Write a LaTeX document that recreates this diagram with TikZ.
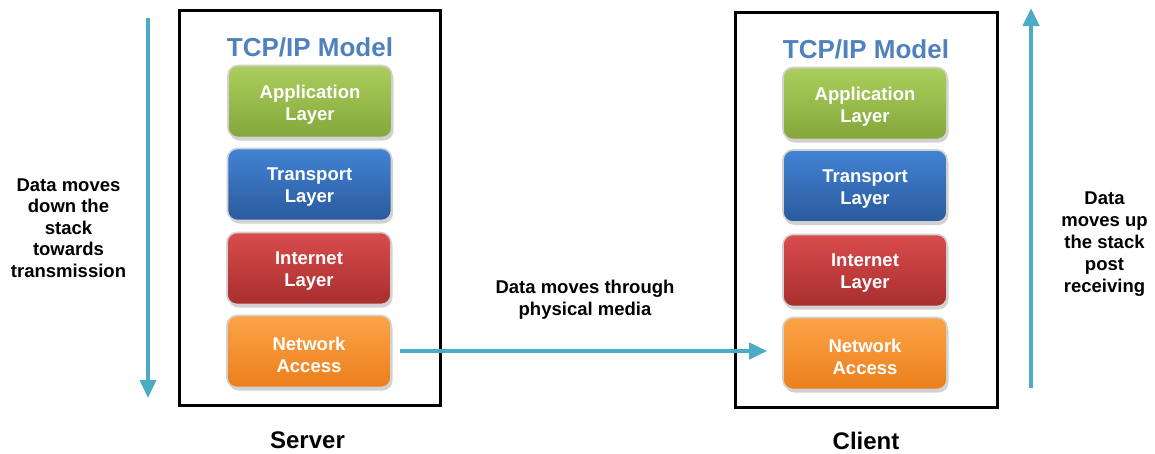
\documentclass[tikz,border=0pt]{standalone}
\usepackage{fontspec}
\setmainfont{Liberation Sans}
\usetikzlibrary{arrows.meta,shadows}

\definecolor{flow}{HTML}{4BACC6}
\definecolor{titleblue}{HTML}{4F81BD}
\definecolor{appTop}{HTML}{ABCF5E}
\definecolor{appBot}{HTML}{84A63A}
\definecolor{trTop}{HTML}{4283D4}
\definecolor{trBot}{HTML}{2A5A9C}
\definecolor{inTop}{HTML}{D94C4C}
\definecolor{inBot}{HTML}{A82E2E}
\definecolor{naTop}{HTML}{FCA447}
\definecolor{naBot}{HTML}{EB7F1C}

\tikzset{
  layer/.style={rectangle, rounded corners=10pt, draw=black!18, line width=1.6pt,
    minimum width=164pt, minimum height=72pt,
    drop shadow={shadow xshift=1.5pt, shadow yshift=-3pt, fill=black!35, opacity=0.5}},
  layertext/.style={align=center, text=white, yshift=-3pt,
    font=\bfseries\fontsize{18.5}{22}\selectfont},
  applayer/.style={layer, top color=appTop, bottom color=appBot},
  translayer/.style={layer, top color=trTop, bottom color=trBot},
  netlayer/.style={layer, top color=inTop, bottom color=inBot},
  accesslayer/.style={layer, top color=naTop, bottom color=naBot},
  hostframe/.style={rectangle, draw=black, line width=3pt,
    minimum width=261pt, minimum height=395pt},
  modeltitle/.style={text=titleblue, font=\bfseries\fontsize{26}{30}\selectfont},
  note/.style={align=center, font=\bfseries\fontsize{18.5}{21.5}\selectfont},
  hostname/.style={inner sep=0pt, font=\bfseries\fontsize{24}{28}\selectfont},
  flowarrow/.style={draw=flow, line width=4pt,
    -{Triangle[width=16pt,length=18pt]}}
}

\begin{document}
\begin{tikzpicture}[x=1pt, y=-1pt]
  \useasboundingbox (0,0) rectangle (1155,453);
  \fill[white] (0,0) rectangle (1155,453);

  % host frames
  \node[hostframe] (sbox) at (309.5,207.5) {};
  \node[hostframe, minimum width=262pt] (cbox) at (866,209.5) {};

  % model titles
  \node[modeltitle] (stitle) at (310,47) {TCP/IP Model};
  \node[modeltitle] (ctitle) at (866,49) {TCP/IP Model};

  % server stack
  \node[applayer, label={[layertext]center:{Application\\Layer}}]
    (sapp) at (310,101.5) {};
  \node[translayer, label={[layertext]center:{Transport\\Layer}}]
    (strn) at (309.5,184.5) {};
  \node[netlayer, label={[layertext]center:{Internet\\Layer}}]
    (sint) at (309,268.5) {};
  \node[accesslayer, label={[layertext]center:{Network\\Access}}]
    (snet) at (309,351.5) {};

  % client stack
  \node[applayer, label={[layertext]center:{Application\\Layer}}]
    (capp) at (865,103.5) {};
  \node[translayer, label={[layertext]center:{Transport\\Layer}}]
    (ctrn) at (865,186) {};
  \node[netlayer, label={[layertext]center:{Internet\\Layer}}]
    (cint) at (865,270.5) {};
  \node[accesslayer, label={[layertext]center:{Network\\Access}}]
    (cnet) at (865,353.5) {};

  % transfer across the physical medium
  \draw[flowarrow, shorten <=8pt, shorten >=15pt]
    ([yshift=0.5pt]snet.east) -- ([yshift=0.5pt]snet.east -| cnet.west);
  \node[note] (media) at (585,299.5) {Data moves through\\physical media};

  % direction of travel through each stack
  \coordinate (ltop) at (148,18);
  \coordinate (lbot) at (148,398);
  \draw[flowarrow] (ltop) -- (lbot);
  \node[note] (down) at (68.5,228) {Data moves\\down the\\stack\\towards\\transmission};

  \coordinate (rbot) at (1031,388);
  \coordinate (rtop) at (1031,8);
  \draw[flowarrow] (rbot) -- (rtop);
  \node[note, font=\bfseries\fontsize{18.5}{22}\selectfont] (up) at (1104.5,244.5)
    {Data\\moves up\\the stack\\post\\receiving};

  % host names
  \node[hostname] (sname) at (307.5,440.5) {Server};
  \node[hostname] (cname) at (866,440.5) {Client};
\end{tikzpicture}
\end{document}
